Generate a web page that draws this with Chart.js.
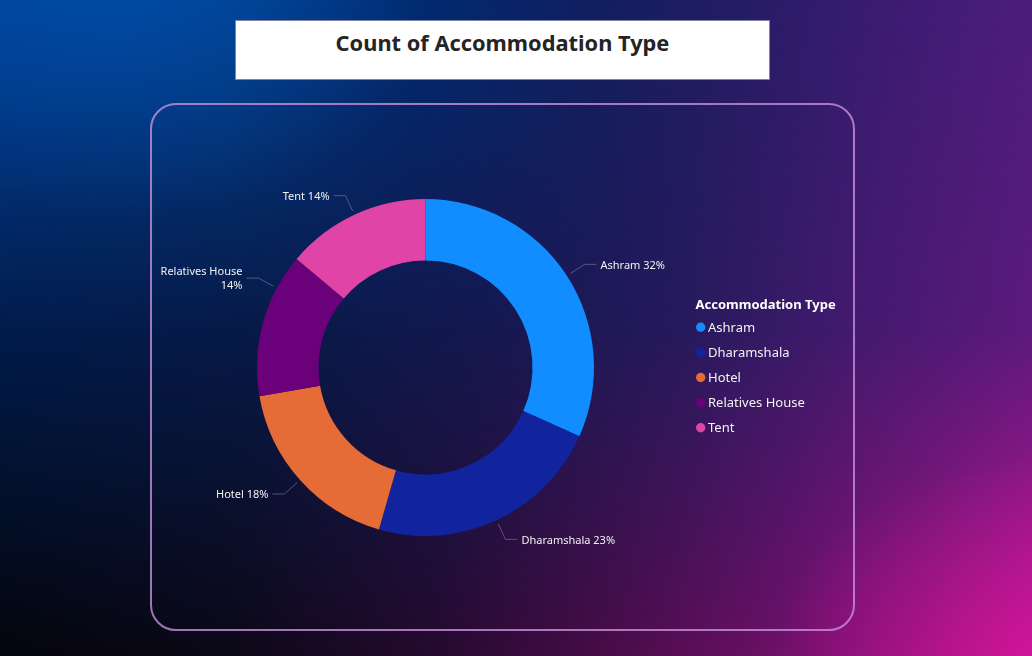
<!DOCTYPE html>
<html>
<head>
<meta charset="utf-8">
<script src="https://cdn.jsdelivr.net/npm/chart.js@4.4.1/dist/chart.umd.min.js"></script>
<style>
  html, body { margin: 0; padding: 0; }
  body {
    width: 1032px; height: 656px; overflow: hidden; position: relative;
    font-family: "Noto Sans", "Open Sans", sans-serif;
    background: linear-gradient(90deg, #00449c 0%, #00418f 22%, #002c72 40%, #121f60 58%, #261c66 72%, #3c1c72 86%, #4c1e7a 100%);
  }
  .bg { position: absolute; left: 0; top: 0; width: 1032px; height: 656px; }
  #bgMid {
    background: linear-gradient(90deg, #011c4c 0%, #071a48 25%, #151850 48%, #261a5c 66%, #421a6e 82%, #5c1a7c 100%);
    -webkit-mask-image: linear-gradient(180deg, rgba(0,0,0,0) 0%, rgba(0,0,0,1) 50%, rgba(0,0,0,1) 100%);
    mask-image: linear-gradient(180deg, rgba(0,0,0,0) 0%, rgba(0,0,0,1) 50%, rgba(0,0,0,1) 100%);
  }
  #bgBot {
    background: linear-gradient(90deg, #04050c 0%, #0c0816 22%, #250a2e 42%, #470c46 58%, #6e1068 76%, #9a127e 90%, #c4148f 100%);
    -webkit-mask-image: linear-gradient(180deg, rgba(0,0,0,0) 50%, rgba(0,0,0,1) 100%);
    mask-image: linear-gradient(180deg, rgba(0,0,0,0) 50%, rgba(0,0,0,1) 100%);
  }
  #bgGlow {
    background:
      radial-gradient(ellipse 260px 200px at 100% 100%, rgba(215,22,160,0.55) 0%, rgba(200,20,150,0) 100%),
      radial-gradient(ellipse 300px 220px at 12% 0%, rgba(0,80,175,0.55) 0%, rgba(0,70,160,0) 100%);
  }
  #titleBox {
    position: absolute; left: 235px; top: 20px; width: 535px; height: 60px;
    box-sizing: border-box; background: #ffffff; border: 1px solid #7d86a8;
    text-align: center; color: #252423;
    font-family: "Noto Sans", "Open Sans", sans-serif; font-weight: 700; font-size: 21.8px;
    line-height: 30px; padding-top: 7px;
  }
  #card {
    position: absolute; left: 150px; top: 103px; width: 705px; height: 528px;
    box-sizing: border-box; border: 2px solid rgba(200,145,220,0.8); border-radius: 26px;
  }
  #chart { position: absolute; left: 150px; top: 103px; }
</style>
</head>
<body>
<div class="bg" id="bgMid"></div>
<div class="bg" id="bgBot"></div>
<div class="bg" id="bgGlow"></div>
<div id="titleBox">Count of Accommodation Type</div>
<div id="card"></div>
<canvas id="chart" width="705" height="528"></canvas>
<script>
// ---- data ----
const categories = ["Ashram", "Dharamshala", "Hotel", "Relatives House", "Tent"];
const counts = [32, 23, 18, 14, 14];
const colors = ["#118DFF", "#12239E", "#E66C37", "#6B007B", "#E044A7"];
const legendTitle = "Accommodation Type";

// ---- style constants ----
const LABEL_FONT = '11px "Noto Sans", "Open Sans", sans-serif';
const LEGEND_FONT = '13px "Noto Sans", "Open Sans", sans-serif';
const LEGEND_TITLE_FONT = 'bold 13px "Noto Sans", "Open Sans", sans-serif';
const labelAngleNudgeDeg = [0, 0, 0, 13, 0];

const outsideLabels = {
  id: 'outsideLabels',
  afterDatasetsDraw(chart) {
    const ctx = chart.ctx;
    const meta = chart.getDatasetMeta(0);
    const data = chart.data.datasets[0].data;
    const total = data.reduce((a, b) => a + b, 0);
    ctx.save();
    ctx.font = LABEL_FONT;
    meta.data.forEach((arc, i) => {
      const p = arc.getProps(['x', 'y', 'startAngle', 'endAngle', 'outerRadius'], true);
      const mid = (p.startAngle + p.endAngle) / 2 + labelAngleNudgeDeg[i] * Math.PI / 180;
      const c = Math.cos(mid), s = Math.sin(mid);
      const ax = p.x + (p.outerRadius + 4) * c, ay = p.y + (p.outerRadius + 4) * s;
      const ex = p.x + (p.outerRadius + 21) * c, ey = p.y + (p.outerRadius + 21) * s;
      const dir = c >= 0 ? 1 : -1;
      const hx = ex + dir * 12;
      ctx.strokeStyle = 'rgba(105,110,135,0.75)';
      ctx.lineWidth = 1;
      ctx.beginPath();
      ctx.moveTo(ax, ay); ctx.lineTo(ex, ey); ctx.lineTo(hx, ey);
      ctx.stroke();
      const pct = Math.round(data[i] / total * 100) + '%';
      const full = chart.data.labels[i] + ' ' + pct;
      const tx = hx + dir * 4;
      ctx.fillStyle = '#f2f2f2';
      ctx.textAlign = dir > 0 ? 'left' : 'right';
      ctx.textBaseline = 'middle';
      const w = ctx.measureText(full).width;
      const fits = dir > 0 ? (tx + w <= chart.width) : (tx - w >= 0);
      if (fits) {
        ctx.fillText(full, tx, ey + 1.2);
      } else {
        ctx.fillText(chart.data.labels[i], tx, ey - 6.5);
        ctx.fillText(pct, tx, ey + 7.5);
      }
    });
    ctx.restore();
  }
};

const sideLegend = {
  id: 'sideLegend',
  afterDraw(chart) {
    const ctx = chart.ctx;
    const area = chart.chartArea;
    const cy = (area.top + area.bottom) / 2;
    const x0 = area.right + 3.5;
    ctx.save();
    ctx.textBaseline = 'middle';
    ctx.textAlign = 'left';
    ctx.fillStyle = '#ffffff';
    ctx.font = LEGEND_TITLE_FONT;
    ctx.fillText(legendTitle, x0, cy - 62);
    ctx.font = LEGEND_FONT;
    const bg = chart.data.datasets[0].backgroundColor;
    chart.data.labels.forEach((lab, i) => {
      const y = cy - 40.2 + 25.1 * i;
      ctx.fillStyle = bg[i];
      ctx.beginPath();
      ctx.arc(x0 + 5.2, y, 4.7, 0, Math.PI * 2);
      ctx.fill();
      ctx.fillStyle = '#f2f2f2';
      ctx.fillText(lab, x0 + 12.5, y + 0.5);
    });
    ctx.restore();
  }
};

new Chart(document.getElementById('chart'), {
  type: 'doughnut',
  data: {
    labels: categories,
    datasets: [{
      data: counts,
      backgroundColor: colors,
      borderWidth: 0,
      hoverOffset: 0
    }]
  },
  options: {
    responsive: false,
    animation: false,
    cutout: '63.5%',
    layout: { padding: { left: 9, right: 163, top: 96, bottom: 95 } },
    plugins: {
      legend: { display: false },
      tooltip: { enabled: false },
      title: { display: false }
    }
  },
  plugins: [outsideLabels, sideLegend]
});
</script>
</body>
</html>
